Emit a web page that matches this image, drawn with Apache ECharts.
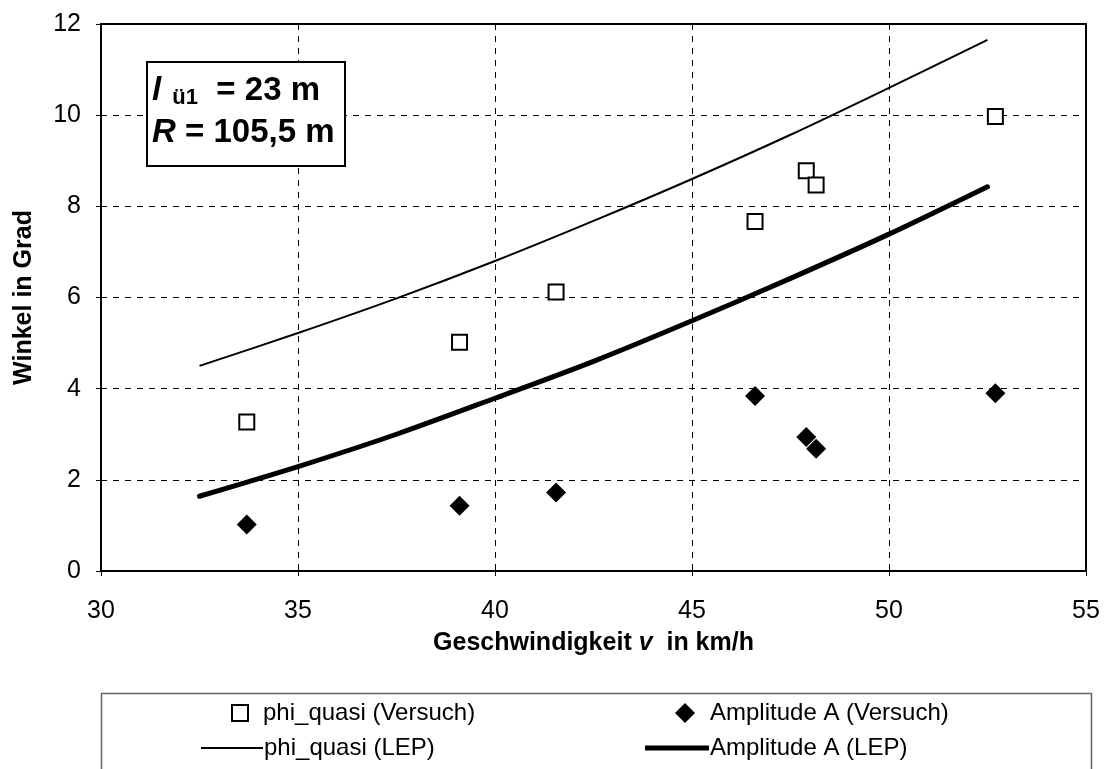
<!DOCTYPE html>
<html>
<head>
<meta charset="utf-8">
<script src="https://cdn.jsdelivr.net/npm/echarts@6/dist/echarts.min.js"></script>
<style>html,body{margin:0;padding:0;background:#fff;}#c{width:1104px;height:769px;}</style>
</head>
<body>
<div id="c"></div>
<script>
// Measured values (Versuch)
const speedVersuch = [33.7, 39.1, 41.55, 46.6, 47.9, 48.15, 52.7];
const phiQuasiVersuch = [3.27, 5.02, 6.12, 7.67, 8.78, 8.47, 9.97];
const amplitudeVersuch = [1.02, 1.43, 1.72, 3.84, 2.94, 2.68, 3.90];
// Calculated curves (LEP)
const speedLEP = [32.5, 35, 37.5, 40, 42.5, 45, 47.5, 50, 52.5];
const phiQuasiLEP = [4.5, 5.22, 5.98, 6.80, 7.68, 8.60, 9.57, 10.6, 11.65];
const amplitudeLEP = [1.64, 2.29, 3.0, 3.79, 4.6, 5.49, 6.42, 7.39, 8.43];
const xTicks = {min: 30, max: 55, interval: 5};
const yTicks = {min: 0, max: 12, interval: 2};
const seriesNames = ['phi_quasi (Versuch)', 'Amplitude A (Versuch)', 'phi_quasi (LEP)', 'Amplitude A (LEP)'];

const zip = (a, b) => a.map((v, i) => [v, b[i]]);
const font = 'Liberation Sans, Arial, sans-serif';

const chart = echarts.init(document.getElementById('c'), null, {renderer: 'canvas'});
const legendText = {fontFamily: font, fontSize: 24, color: '#000'};
chart.setOption({
  backgroundColor: '#fff',
  animation: false,
  grid: {left: 101, top: 24, right: 18, bottom: 198, show: true, borderColor: '#000', borderWidth: 2, backgroundColor: '#fff'},
  xAxis: {
    type: 'value', min: xTicks.min, max: xTicks.max, interval: xTicks.interval,
    axisLine: {show: true, lineStyle: {color: '#000', width: 2}},
    axisTick: {show: true, length: 5, lineStyle: {color: '#000'}},
    axisLabel: {fontFamily: font, fontSize: 25, color: '#000', margin: 28},
    splitLine: {show: true, lineStyle: {color: '#000', type: [6, 6], width: 1}},
    name: '{b|Geschwindigkeit }{i|v}{b|  in km/h}',
    nameLocation: 'middle', nameGap: 60,
    nameTextStyle: {rich: {
      b: {fontFamily: font, fontSize: 25, fontWeight: 'bold', color: '#000'},
      i: {fontFamily: font, fontSize: 25, fontWeight: 'bold', fontStyle: 'italic', color: '#000'}
    }}
  },
  yAxis: {
    type: 'value', min: yTicks.min, max: yTicks.max, interval: yTicks.interval,
    axisLine: {show: true, lineStyle: {color: '#000', width: 2}},
    axisTick: {show: true, length: 5, lineStyle: {color: '#000'}},
    axisLabel: {fontFamily: font, fontSize: 25, color: '#000', margin: 20},
    splitLine: {show: true, lineStyle: {color: '#000', type: [6, 6], width: 1}},
    name: 'Winkel in Grad', nameLocation: 'middle', nameGap: 64,
    nameTextStyle: {fontFamily: font, fontSize: 25, fontWeight: 'bold', color: '#000'}
  },
  legend: [
    {data: [seriesNames[0]], left: 226, top: 696, itemWidth: 16, itemHeight: 16, textStyle: Object.assign({padding: [0, 0, 0, 10]}, legendText)},
    {data: [seriesNames[1]], left: 670, top: 696, itemWidth: 20, itemHeight: 20, textStyle: Object.assign({padding: [0, 0, 0, 10]}, legendText)},
    {data: [{name: seriesNames[2], icon: 'rect'}], left: 196, top: 731, itemWidth: 62, itemHeight: 2, textStyle: Object.assign({padding: [0, 0, 0, -4]}, legendText)},
    {data: [{name: seriesNames[3], icon: 'rect'}], left: 640, top: 731, itemWidth: 64, itemHeight: 5, textStyle: Object.assign({padding: [0, 0, 0, -4]}, legendText)}
  ],
  graphic: [
    {type: 'rect', left: 99, top: 691, shape: {width: 990, height: 100}, style: {fill: 'none', stroke: '#666', lineWidth: 1.5}, silent: true},
    {type: 'rect', left: 146, top: 61, shape: {width: 198, height: 104}, style: {fill: '#fff', stroke: '#000', lineWidth: 2}, z: 100},
    {type: 'text', left: 152, top: 73, z: 101, style: {
      text: '{it|l }{sub|ü1}{b|  = 23 m}\n{it|R}{b| = 105,5 m}',
      rich: {
        it: {fontFamily: font, fontSize: 33, fontWeight: 'bold', fontStyle: 'italic', fill: '#000', lineHeight: 42},
        sub: {fontFamily: font, fontSize: 22, fontWeight: 'bold', fill: '#000', padding: [14, 0, 0, 2], lineHeight: 42},
        b: {fontFamily: font, fontSize: 33, fontWeight: 'bold', fill: '#000', lineHeight: 42}
      }
    }}
  ],
  series: [
    {name: seriesNames[2], type: 'line', smooth: 0.3, symbol: 'none', data: zip(speedLEP, phiQuasiLEP), lineStyle: {color: '#000', width: 2}, itemStyle: {color: '#000'}, z: 2},
    {name: seriesNames[3], type: 'line', smooth: 0.3, symbol: 'none', data: zip(speedLEP, amplitudeLEP), lineStyle: {color: '#000', width: 5, cap: 'round'}, itemStyle: {color: '#000'}, z: 2},
    {name: seriesNames[0], type: 'scatter', symbol: 'rect', symbolSize: 15, data: zip(speedVersuch, phiQuasiVersuch), itemStyle: {color: '#fff', borderColor: '#000', borderWidth: 2, opacity: 1}, z: 3},
    {name: seriesNames[1], type: 'scatter', symbol: 'diamond', symbolSize: 20, data: zip(speedVersuch, amplitudeVersuch), itemStyle: {color: '#000', opacity: 1}, z: 3}
  ]
});
</script>
</body>
</html>
